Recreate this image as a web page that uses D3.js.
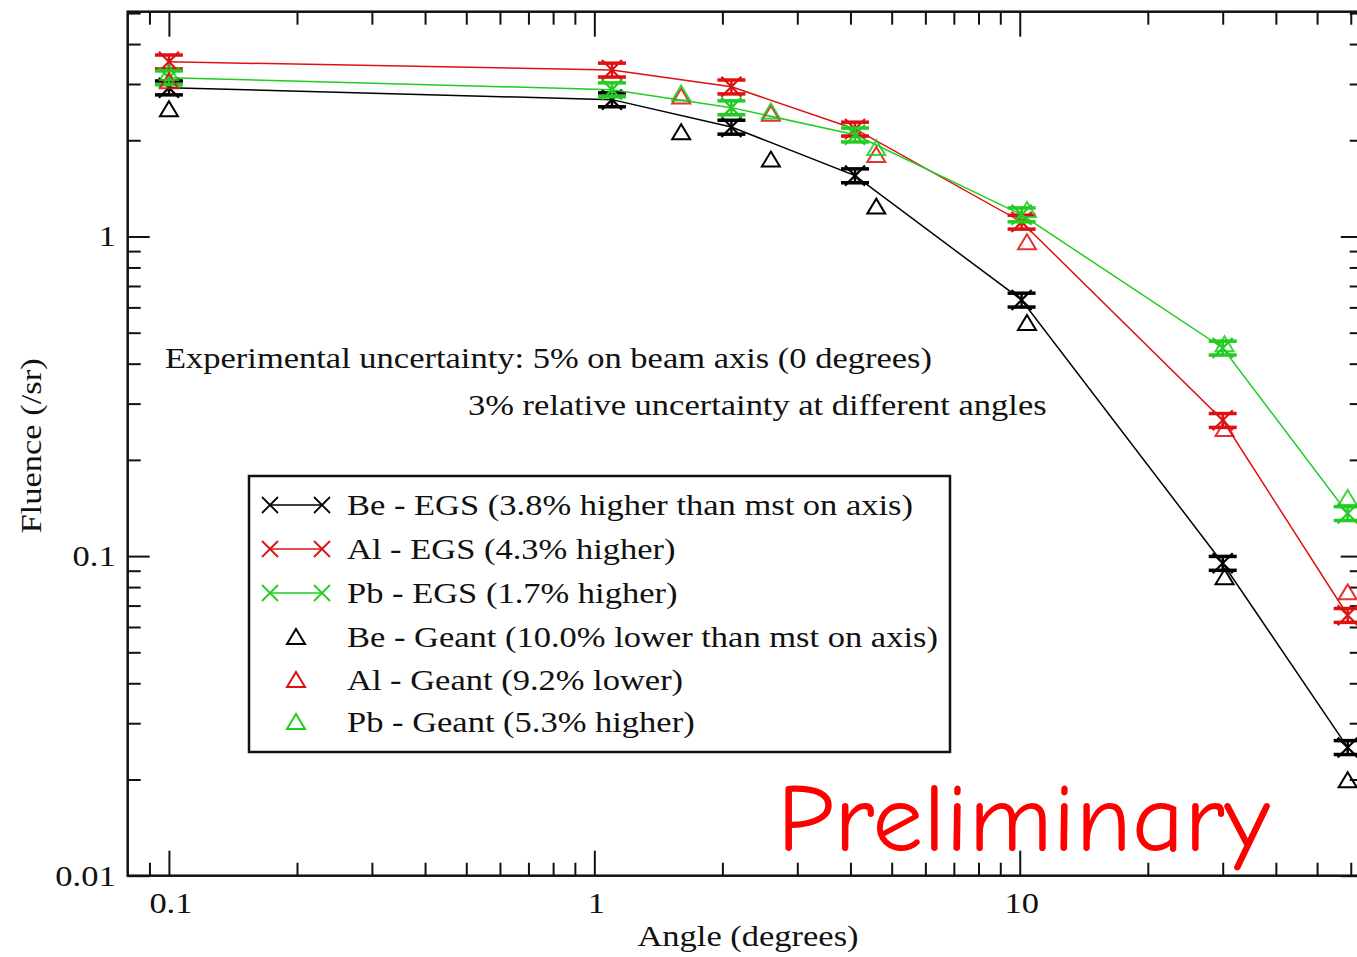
<!DOCTYPE html>
<html>
<head>
<meta charset="utf-8">
<script src="https://cdn.jsdelivr.net/npm/d3@7"></script>
<style>
  html, body { margin: 0; padding: 0; background: #ffffff; }
  svg { display: block; }
</style>
</head>
<body>
<svg id="chart" width="1357" height="957"></svg>
<script>
// ---------------- DATA ----------------
const egsAngles   = [0.1, 1.1, 2.1, 4.1, 10.1, 30, 59];
const beEGS       = [2.92, 2.68, 2.20, 1.55, 0.633, 0.095, 0.0252];
const alEGS       = [3.52, 3.32, 2.94, 2.17, 1.11, 0.266, 0.0653];
const pbEGS       = [3.14, 2.88, 2.53, 2.08, 1.17, 0.448, 0.136];
const egsErrFrac  = 0.05;

const geantAngles = [0.1, 1.6, 2.6, 4.6, 10.4, 30.3, 59];
const beGeant     = [2.50, 2.12, 1.74, 1.24, 0.536, 0.0858, 0.0199];
const alGeant     = [3.06, 2.74, 2.42, 1.80, 0.96, 0.25, 0.077];
const pbGeant     = [3.25, 2.80, 2.46, 1.89, 1.21, 0.46, 0.152];

const egsLabels   = ["Be - EGS (3.8% higher than mst on axis)", "Al - EGS (4.3% higher)", "Pb - EGS (1.7% higher)"];
const geantLabels = ["Be - Geant (10.0% lower than mst on axis)", "Al - Geant (9.2% lower)", "Pb - Geant (5.3% higher)"];
const seriesColors = ["#000000", "#dd1111", "#22cc22"];

const xMajorTicks = [0.1, 1, 10];
const xMinorTicks = [0.09, 0.2, 0.3, 0.4, 0.5, 0.6, 0.7, 0.8, 0.9, 2, 3, 4, 5, 6, 7, 8, 9, 20, 30, 40, 50, 60];
const yMajorTicks = [0.01, 0.1, 1];
const yMinorTicks = [0.02, 0.03, 0.04, 0.05, 0.06, 0.07, 0.08, 0.09, 0.2, 0.3, 0.4, 0.5, 0.6, 0.7, 0.8, 0.9, 2, 3, 4, 5];
const xTickLabels = ["0.1", "1", "10"];
const yTickLabels = ["0.01", "0.1", "1"];

const xTitle = "Angle (degrees)";
const yTitle = "Fluence (/sr)";
const note1 = "Experimental uncertainty: 5% on beam axis (0 degrees)";
const note2 = "3% relative uncertainty at different angles";
const stamp = "Preliminary";

// ---------------- LAYOUT ----------------
const svg = d3.select("#chart");
const pLeft = 127.7, pRight = 1362.7, pTop = 11.7, pBottom = 875.7;
const x = d3.scaleLog().domain([0.08, 64]).range([pLeft, pRight]);
const y = d3.scaleLog().domain([0.01, 5.05]).range([pBottom, pTop]);
const serif = "'Liberation Serif','Times New Roman',Times,serif";
const SX = 1.15;

function addText(g, str, px, py, opt = {}) {
  const o = Object.assign({size: 30, anchor: "start", rotate: 0, sx: SX, fill: "#111", family: serif}, opt);
  return g.append("text")
    .attr("transform", `translate(${px},${py}) rotate(${o.rotate}) scale(${o.sx},1)`)
    .attr("text-anchor", o.anchor)
    .attr("font-size", o.size)
    .attr("font-family", o.family)
    .attr("fill", o.fill)
    .text(str);
}

// ---------------- AXES ----------------
const axesG = svg.append("g");
function styleAxis(g) {
  g.select(".domain").remove();
  g.selectAll(".tick line").attr("stroke", "#111").attr("stroke-width", 2);
  g.selectAll(".tick text").remove();
}
const MAJ = 25, MIN = 13;
axesG.append("g").attr("transform", `translate(0,${pBottom})`)
  .call(d3.axisBottom(x).tickValues(xMajorTicks).tickSize(-MAJ)).call(styleAxis);
axesG.append("g").attr("transform", `translate(0,${pBottom})`)
  .call(d3.axisBottom(x).tickValues(xMinorTicks).tickSize(-MIN)).call(styleAxis);
axesG.append("g").attr("transform", `translate(0,${pTop})`)
  .call(d3.axisTop(x).tickValues(xMajorTicks).tickSize(-MAJ)).call(styleAxis);
axesG.append("g").attr("transform", `translate(0,${pTop})`)
  .call(d3.axisTop(x).tickValues(xMinorTicks).tickSize(-MIN)).call(styleAxis);
axesG.append("g").attr("transform", `translate(${pLeft},0)`)
  .call(d3.axisLeft(y).tickValues(yMajorTicks).tickSize(-22)).call(styleAxis);
axesG.append("g").attr("transform", `translate(${pLeft},0)`)
  .call(d3.axisLeft(y).tickValues(yMinorTicks).tickSize(-MIN)).call(styleAxis);
axesG.append("g").attr("transform", `translate(${pRight},0)`)
  .call(d3.axisRight(y).tickValues(yMajorTicks).tickSize(-22)).call(styleAxis);
axesG.append("g").attr("transform", `translate(${pRight},0)`)
  .call(d3.axisRight(y).tickValues(yMinorTicks).tickSize(-MIN)).call(styleAxis);

svg.append("rect")
  .attr("x", pLeft).attr("y", pTop)
  .attr("width", pRight - pLeft).attr("height", pBottom - pTop)
  .attr("fill", "none").attr("stroke", "#111").attr("stroke-width", 2.5);

const labG = svg.append("g");
xMajorTicks.forEach((d, i) => addText(labG, xTickLabels[i], x(d) + 2, 913, {anchor: "middle"}));
yMajorTicks.forEach((d, i) => addText(labG, yTickLabels[i], pLeft - 12, y(d) + 10, {anchor: "end"}));
addText(labG, xTitle, 748, 946, {anchor: "middle"});
addText(labG, yTitle, 41, 446, {anchor: "middle", rotate: -90});

// ---------------- ANNOTATIONS ----------------
addText(labG, note1, 165, 368);
addText(labG, note2, 468, 415);

// ---------------- SERIES ----------------
const plotG = svg.append("g");
const line = d3.line().x(d => x(d[0])).y(d => y(d[1]));

function xMarker(g, cx, cy, r, color, w) {
  g.append("path")
    .attr("d", `M${cx - r},${cy - r}L${cx + r},${cy + r}M${cx - r},${cy + r}L${cx + r},${cy - r}`)
    .attr("stroke", color).attr("stroke-width", w).attr("fill", "none");
}
function triMarker(g, cx, cy, color) {
  g.append("path")
    .attr("d", `M${cx},${cy - 8}L${cx + 9},${cy + 7}L${cx - 9},${cy + 7}Z`)
    .attr("stroke", color).attr("stroke-width", 2).attr("fill", "none");
}

const egsValues = [beEGS, alEGS, pbEGS];
egsValues.forEach((vals, si) => {
  const color = seriesColors[si];
  const pts = egsAngles.map((a, i) => [a, vals[i]]);
  const g = plotG.append("g");
  g.append("path").attr("d", line(pts)).attr("fill", "none")
    .attr("stroke", color).attr("stroke-width", 1.5);
  pts.forEach(([a, v]) => {
    const cx = x(a);
    const y1 = y(v * (1 + egsErrFrac)), y0 = y(v * (1 - egsErrFrac));
    g.append("line").attr("x1", cx).attr("x2", cx).attr("y1", y1).attr("y2", y0)
      .attr("stroke", color).attr("stroke-width", 2.5);
    [y1, y0].forEach(yy => g.append("line")
      .attr("x1", cx - 14).attr("x2", cx + 14).attr("y1", yy).attr("y2", yy)
      .attr("stroke", color).attr("stroke-width", 3.5));
    xMarker(g, cx, y(v), 10, color, 2.2);
  });
});

const geantValues = [beGeant, alGeant, pbGeant];
geantValues.forEach((vals, si) => {
  const color = seriesColors[si];
  const g = plotG.append("g").attr("opacity", si === 0 ? 1 : 0.85);
  geantAngles.forEach((a, i) => triMarker(g, x(a), y(vals[i]), color));
});

// ---------------- LEGEND ----------------
const legG = svg.append("g");
legG.append("rect").attr("x", 249).attr("y", 476).attr("width", 701).attr("height", 276)
  .attr("fill", "#fff").attr("stroke", "#111").attr("stroke-width", 2.5);
const rowY = [505, 549, 593, 637, 680, 722];
egsLabels.forEach((lab, i) => {
  const cy = rowY[i], color = seriesColors[i];
  legG.append("line").attr("x1", 270).attr("x2", 322).attr("y1", cy).attr("y2", cy)
    .attr("stroke", color).attr("stroke-width", 1.5);
  xMarker(legG, 270, cy, 8, color, 1.8);
  xMarker(legG, 322, cy, 8, color, 1.8);
  addText(legG, lab, 347, cy + 10);
});
geantLabels.forEach((lab, i) => {
  const cy = rowY[i + 3], color = seriesColors[i];
  triMarker(legG, 296, cy, color);
  addText(legG, lab, 347, cy + 10);
});

// ---------------- STAMP ----------------
svg.append("text")
  .attr("x", 777).attr("y", 851)
  .attr("font-family", "'Comic Sans MS','Comic Neue','DejaVu Sans',sans-serif")
  .attr("font-size", 98)
  .attr("fill", "#ff0000")
  .attr("textLength", 493)
  .attr("lengthAdjust", "spacingAndGlyphs")
  .text(stamp);
</script>
</body>
</html>
